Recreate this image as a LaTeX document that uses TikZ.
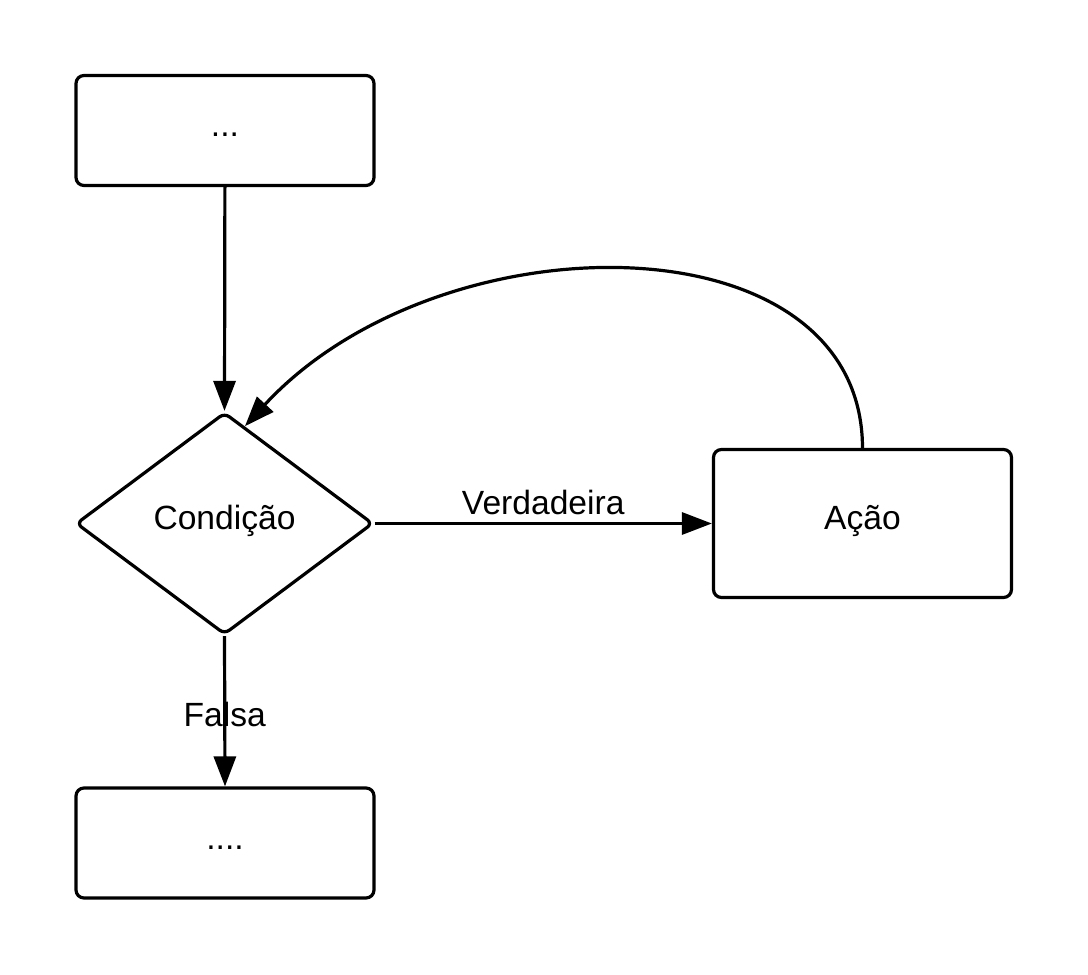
\documentclass[tikz,border=0pt]{standalone}
\usepackage{fontspec}
\setmainfont{Liberation Sans}
\usetikzlibrary{shapes.geometric,arrows.meta,calc}
\begin{document}
\begin{tikzpicture}[x=0.5pt,y=-0.5pt,
  every node/.style={font=\fontsize{16.8pt}{19pt}\selectfont},
  box/.style={draw, line width=1.6pt, rounded corners=4pt, minimum width=149pt, minimum height=55pt, inner sep=0pt, text height=9pt, text depth=3pt},
  condbox/.style={draw, diamond, line width=1.6pt, rounded corners=3pt, minimum width=148.5pt, minimum height=111pt, inner sep=0pt, text height=9pt, text depth=3pt},
  conn/.style={line width=1.6pt, -{Triangle[length=15pt,width=11pt]}},
  lbl/.style={inner sep=0pt}]
\useasboundingbox (0,0) rectangle (1088,975);
\node[box] (top) at (225,130.5) {...};
\node[condbox] (cond) at (224.5,523.5) {Condição};
\node[box, minimum height=74pt] (acao) at (862.5,523.5) {Ação};
\node[box] (bottom) at (225,843) {....};
\coordinate (loopend) at ($(cond.north)!0.136!(cond.east)$);
\draw[conn] (top) -- (cond.north);
\draw[conn] (cond.east) -- node[lbl, midway, above=3.5pt] (vlbl) {Verdadeira} (acao.west);
\draw[conn] (cond.south) -- node[lbl, midway, yshift=-1.6pt] (flbl) {Falsa} (bottom.north);
\draw[conn] (acao.north) .. controls (862,215) and (440,215) .. (loopend);
\end{tikzpicture}
\end{document}
